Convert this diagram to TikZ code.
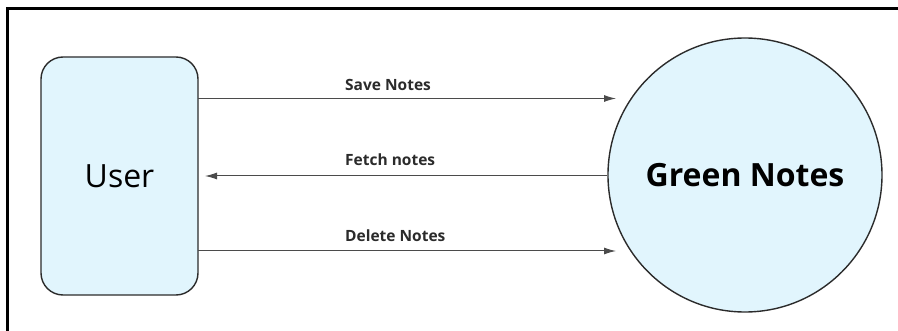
\documentclass[tikz,border=0pt]{standalone}
\usepackage{fontspec}
\setmainfont{Open Sans}
\usepackage{tikz}
\usetikzlibrary{arrows.meta}
\definecolor{paleblue}{HTML}{E1F5FD}
\definecolor{inkgray}{HTML}{2B2B2B}
\tikzset{
    entity/.style={draw=inkgray, fill=paleblue, line width=1.4pt,
    	font=\fontsize{32}{38}\selectfont}
}
\tikzset{
    flowlabel/.style={anchor=base west, inner sep=0pt, text=inkgray,
    	font=\fontsize{15.5}{18}\selectfont\bfseries}
}
\tikzset{
	every edge/.append style={draw=inkgray!85, line width=1pt,
		-{Latex[length=12pt,width=7pt]}}
}

\begin{document}
\begin{tikzpicture}[x=1pt,y=-1pt]
  \useasboundingbox (0,0) rectangle (898,331);
  \draw[line width=3pt] (7.5,331) -- (7.5,8.5) -- (898,8.5);

  \node (user) [entity, rectangle, rounded corners=22pt,
    minimum width=157pt, minimum height=238pt] at (119.5,176) {User};

  \node (notes) [entity, circle, minimum size=274pt,
    font=\fontsize{32}{38}\selectfont\bfseries] at (745,175) {Green Notes};

  \node (lsave) [flowlabel] at (345,91) {Save Notes};
  \node (lfetch) [flowlabel] at (345,166) {Fetch notes};
  \node (ldelete) [flowlabel] at (345,242) {Delete Notes};

  \coordinate (s1) at (198,98.5);
  \coordinate (s2) at (616,98.5);
  \coordinate (f1) at (607,176);
  \coordinate (f2) at (205,176);
  \coordinate (d1) at (198,251);
  \coordinate (d2) at (616,251);

  \draw (s1) edge (s2);
  \draw (f1) edge (f2);
  \draw (d1) edge (d2);
\end{tikzpicture}
\end{document}
